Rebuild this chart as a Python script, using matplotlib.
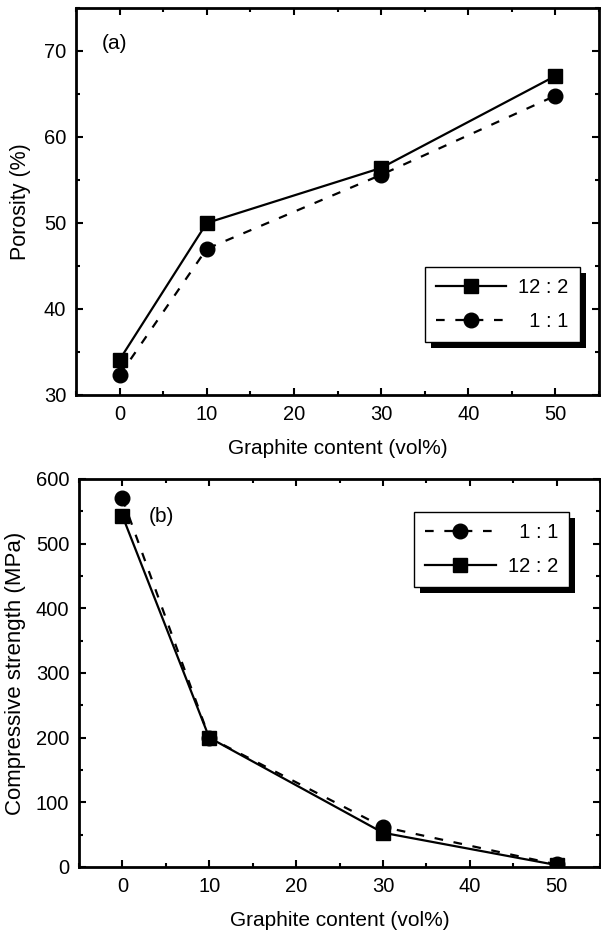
import matplotlib
matplotlib.use('Agg')
import matplotlib.pyplot as plt
from matplotlib.patches import Rectangle
from matplotlib.ticker import MultipleLocator

plt.rcParams['font.family'] = ['Liberation Sans', 'DejaVu Sans']

# ---- data ----
graphite = [0, 10, 30, 50]
porosity_12_2 = [34.1, 50.0, 56.4, 67.1]
porosity_1_1 = [32.3, 47.0, 55.6, 64.8]
strength_1_1 = [570, 200, 62, 4]
strength_12_2 = [543, 200, 53, 3]
label_12_2 = "12 : 2"
label_1_1 = "\u20071 : 1"
xticks = [0, 10, 20, 30, 40, 50]
porosity_ticks = [30, 40, 50, 60, 70]
strength_ticks = [0, 100, 200, 300, 400, 500, 600]
xlabel = "Graphite content (vol%)"

W, H = 601, 934
fig = plt.figure(figsize=(W / 100, H / 100), dpi=100)

def px_axes(l, t, r, b):
    return fig.add_axes([l / W, 1 - b / H, (r - l) / W, (b - t) / H])

ax1 = px_axes(76, 8, 599, 395)
ax2 = px_axes(79, 479, 600, 867)

dash = (0, (3.9, 4.8))

def style(ax):
    for s in ax.spines.values():
        s.set_linewidth(2.0)
    ax.tick_params(which='both', direction='in', top=True, right=True,
                   labelsize=14.5, pad=7, width=1.5)
    ax.tick_params(which='major', length=5)
    ax.tick_params(which='minor', length=3)
    ax.set_xlim(-5, 55)
    ax.set_xticks(xticks)
    ax.xaxis.set_minor_locator(MultipleLocator(5))
    ax.set_xlabel(xlabel, fontsize=15, labelpad=11)

legend_kw = dict(loc='upper left', borderaxespad=0, fontsize=14.5, handlelength=3.5,
                 handletextpad=0.6, labelspacing=0.75, frameon=True, fancybox=False,
                 framealpha=1, edgecolor='black', borderpad=0.55)

# ---- (a) ----
l1, = ax1.plot(graphite, porosity_12_2, '-', color='black', lw=1.6,
               marker='s', ms=10, mfc='black', mec='black', label=label_12_2)
l2, = ax1.plot(graphite, porosity_1_1, linestyle=dash, color='black', lw=1.6,
               marker='o', ms=10.5, mfc='black', mec='black', label=label_1_1)
style(ax1)
ax1.set_ylim(30, 75)
ax1.set_yticks(porosity_ticks)
ax1.yaxis.set_minor_locator(MultipleLocator(5))
ax1.set_ylabel("Porosity (%)", fontsize=15.5, labelpad=9)
ax1.text(-2.0, 70.9, "(a)", fontsize=15, va='center', ha='left')
leg1 = ax1.legend(handles=[l1, l2], bbox_to_anchor=(0.667, 0.331), **legend_kw)
leg1.get_frame().set_linewidth(1.0)

# ---- (b) ----
m1, = ax2.plot(graphite, strength_1_1, linestyle=dash, color='black', lw=1.6,
               marker='o', ms=10.5, mfc='black', mec='black', label=label_1_1)
m2, = ax2.plot(graphite, strength_12_2, '-', color='black', lw=1.6,
               marker='s', ms=10, mfc='black', mec='black', label=label_12_2)
style(ax2)
ax2.set_ylim(0, 600)
ax2.set_yticks(strength_ticks)
ax2.yaxis.set_minor_locator(MultipleLocator(50))
ax2.set_ylabel("Compressive strength (MPa)", fontsize=16, labelpad=7)
ax2.text(3.0, 542, "(b)", fontsize=15, va='center', ha='left')
leg2 = ax2.legend(handles=[m1, m2], bbox_to_anchor=(0.643, 0.915), **legend_kw)
leg2.get_frame().set_linewidth(1.0)

# ---- drop shadows for legends ----
fig.canvas.draw()
for ax, leg in ((ax1, leg1), (ax2, leg2)):
    bb = leg.get_window_extent()
    off = 6
    inv = ax.transAxes.inverted()
    (x0, y0) = inv.transform((bb.x0 + off, bb.y0 - off))
    (x1, y1) = inv.transform((bb.x1 + off, bb.y1 - off))
    ax.add_patch(Rectangle((x0, y0), x1 - x0, y1 - y0, transform=ax.transAxes,
                           facecolor='black', edgecolor='none', zorder=4.9,
                           clip_on=False))

fig.savefig('out.png', dpi=100)
